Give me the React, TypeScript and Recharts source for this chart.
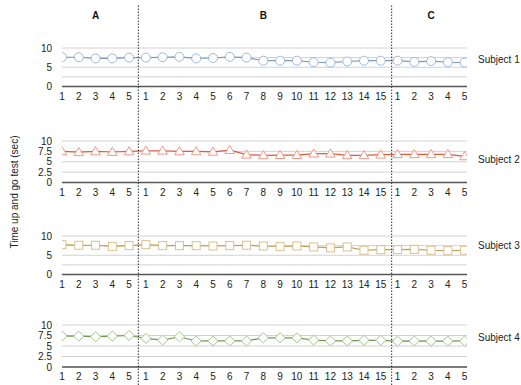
import { CartesianGrid, Line, LineChart, ReferenceLine, XAxis, YAxis } from "recharts";

// session labels along the x axis: phase A (5), phase B (15), phase C (5)
const xTickLabels = [
  "1", "2", "3", "4", "5",
  "1", "2", "3", "4", "5", "6", "7", "8", "9", "10", "11", "12", "13", "14", "15",
  "1", "2", "3", "4", "5",
];
const sessions = xTickLabels.map((_, i) => i + 1);

const phaseLabels = ["A", "B", "C"];
const phaseLabelAt = [3, 13, 23];
const phaseBreaks = [5.55, 20.65];

const yTicks = [0, 2.5, 5, 7.5, 10];

const subject1 = [
  7.6, 7.6, 7.3, 7.3, 7.5,
  7.5, 7.6, 7.7, 7.3, 7.4, 7.7, 7.5, 6.7, 6.7, 6.7, 6.3, 6.2, 6.5, 6.7, 6.7,
  6.7, 6.4, 6.6, 6.3, 6.2,
];
const subject2 = [
  7.5, 7.3, 7.5, 7.35, 7.5,
  7.65, 7.65, 7.5, 7.5, 7.4, 7.8, 6.7, 6.55, 6.6, 6.6, 6.95, 6.95, 6.55, 6.55, 6.7,
  6.8, 6.8, 6.8, 6.8, 6.3,
];
const subject3 = [
  7.75, 7.6, 7.6, 7.3, 7.5,
  7.75, 7.5, 7.5, 7.5, 7.4, 7.5, 7.6, 7.4, 7.3, 7.4, 7.15, 6.9, 7.15, 6.3, 6.45,
  6.45, 6.55, 6.3, 6.2, 6.3,
];
const subject4 = [
  7.35, 7.35, 7.2, 7.35, 7.5,
  6.8, 6.4, 7.2, 6.2, 6.2, 6.2, 6.2, 6.95, 6.95, 6.95, 6.4, 6.2, 6.2, 6.35, 6.35,
  6.15, 6.2, 6.15, 6.15, 6.2,
];

const rows = sessions.map((s, i) => ({
  s,
  v1: subject1[i],
  v2: subject2[i],
  v3: subject3[i],
  v4: subject4[i],
}));

const FONT = '"Liberation Sans", Arial, Helvetica, sans-serif';
const X_DOMAIN: [number, number] = [1, 25.14];

type Shape = "circle" | "triangle" | "square" | "diamond";

const renderDot = (shape: Shape, color: string) => (p: any) => {
  const { cx, cy, index } = p;
  const common = { fill: "#fff", stroke: color, strokeWidth: 1 };
  if (cx == null || cy == null) return <g key={`d${index}`} />;
  if (shape === "circle") return <circle key={`d${index}`} cx={cx} cy={cy} r={4.5} {...common} />;
  if (shape === "square")
    return <rect key={`d${index}`} x={cx - 4} y={cy - 4} width={8} height={8} {...common} />;
  if (shape === "triangle")
    return (
      <polygon
        key={`d${index}`}
        points={`${cx},${cy - 4.8} ${cx - 4.8},${cy + 3.4} ${cx + 4.8},${cy + 3.4}`}
        {...common}
      />
    );
  return (
    <polygon
      key={`d${index}`}
      points={`${cx},${cy - 5} ${cx + 5.2},${cy} ${cx},${cy + 5} ${cx - 5.2},${cy}`}
      {...common}
    />
  );
};

type PanelProps = {
  top: number;
  plotH: number;
  dataKey: string;
  line: string;
  marker: string;
  shape: Shape;
  minorLabels: boolean;
};

const Panel = (props: PanelProps) => {
  return (
    <div style={{ position: "absolute", left: 0, top: props.top }}>
      <LineChart
        width={521}
        height={props.plotH + 25}
        data={rows}
        margin={{ top: 5, right: 54, bottom: 0, left: 0 }}
      >
        <CartesianGrid vertical={false} stroke="#d2d2d2" />
        <XAxis
          dataKey="s"
          type="number"
          domain={X_DOMAIN}
          allowDataOverflow
          ticks={sessions}
          interval={0}
          tickFormatter={(v: number) => xTickLabels[v - 1]}
          axisLine={{ stroke: "#555", strokeWidth: 1.5 }}
          tickLine={false}
          tickSize={0}
          tickMargin={6}
          height={20}
          tick={{ fontSize: 10, fill: "#222", fontFamily: FONT }}
        />
        <YAxis
          type="number"
          domain={[0, 10]}
          ticks={yTicks}
          interval={0}
          tickFormatter={(v: number) =>
            props.minorLabels || v % 5 === 0 ? String(v) : ""
          }
          axisLine={false}
          tickLine={false}
          tickSize={0}
          tickMargin={10}
          width={62}
          tick={{ fontSize: 10, fill: "#222", fontFamily: FONT }}
        />
        <Line
          dataKey={props.dataKey}
          stroke={props.line}
          strokeWidth={1.2}
          isAnimationActive={false}
          dot={renderDot(props.shape, props.marker)}
        />
      </LineChart>
    </div>
  );
};

const subjectLabel = (text: string, y: number) => (
  <div
    style={{
      position: "absolute",
      left: 478,
      top: y - 6,
      fontSize: 10,
      lineHeight: "12px",
      whiteSpace: "nowrap",
      color: "#222",
      fontFamily: FONT,
    }}
  >
    {text}
  </div>
);

export default function App() {
  return (
    <div
      style={{
        position: "absolute",
        left: 0,
        top: 0,
        width: 521,
        height: 385,
        overflow: "hidden",
        background: "#fff",
        fontFamily: FONT,
      }}
    >
      <Panel top={43} plotH={38.5} dataKey="v1" line="#7d98bd" marker="#9fb8d6" shape="circle" minorLabels={false} />
      <Panel top={136} plotH={41.5} dataKey="v2" line="#e05a3e" marker="#ee9a88" shape="triangle" minorLabels={true} />
      <Panel top={231} plotH={38.5} dataKey="v3" line="#c49a55" marker="#dcc08a" shape="square" minorLabels={false} />
      <Panel top={320} plotH={42} dataKey="v4" line="#6f9a4c" marker="#a5c58a" shape="diamond" minorLabels={true} />

      {subjectLabel("Subject 1", 60)}
      {subjectLabel("Subject 2", 160)}
      {subjectLabel("Subject 3", 246)}
      {subjectLabel("Subject 4", 338)}

      <div
        style={{
          position: "absolute",
          left: 15 - 100,
          top: 192 - 6,
          width: 200,
          textAlign: "center",
          fontSize: 10,
          lineHeight: "12px",
          color: "#222",
          transform: "rotate(-90deg)",
          transformOrigin: "center",
        }}
      >
        Time up and go test (sec)
      </div>

      <div style={{ position: "absolute", left: 0, top: 0, pointerEvents: "none" }}>
        <LineChart
          width={521}
          height={385}
          data={rows}
          margin={{ top: 5, right: 54, bottom: 0, left: 62 }}
        >
          <XAxis dataKey="s" type="number" domain={X_DOMAIN} allowDataOverflow hide />
          <YAxis type="number" domain={[0, 1]} allowDataOverflow hide />
          <Line dataKey="v1" stroke="none" dot={false} activeDot={false} isAnimationActive={false} />
          {phaseBreaks.map((x) => (
            <ReferenceLine
              key={`b${x}`}
              x={x}
              stroke="#333"
              strokeDasharray="1.5 1.5"
              ifOverflow="visible"
            />
          ))}
          {phaseLabels.map((l, i) => (
            <ReferenceLine
              key={l}
              x={phaseLabelAt[i]}
              stroke="transparent"
              ifOverflow="visible"
              label={{
                value: l,
                position: "insideTop",
                offset: 7,
                fontSize: 10,
                fontWeight: "bold",
                fill: "#111",
                fontFamily: FONT,
              }}
            />
          ))}
        </LineChart>
      </div>
    </div>
  );
}
